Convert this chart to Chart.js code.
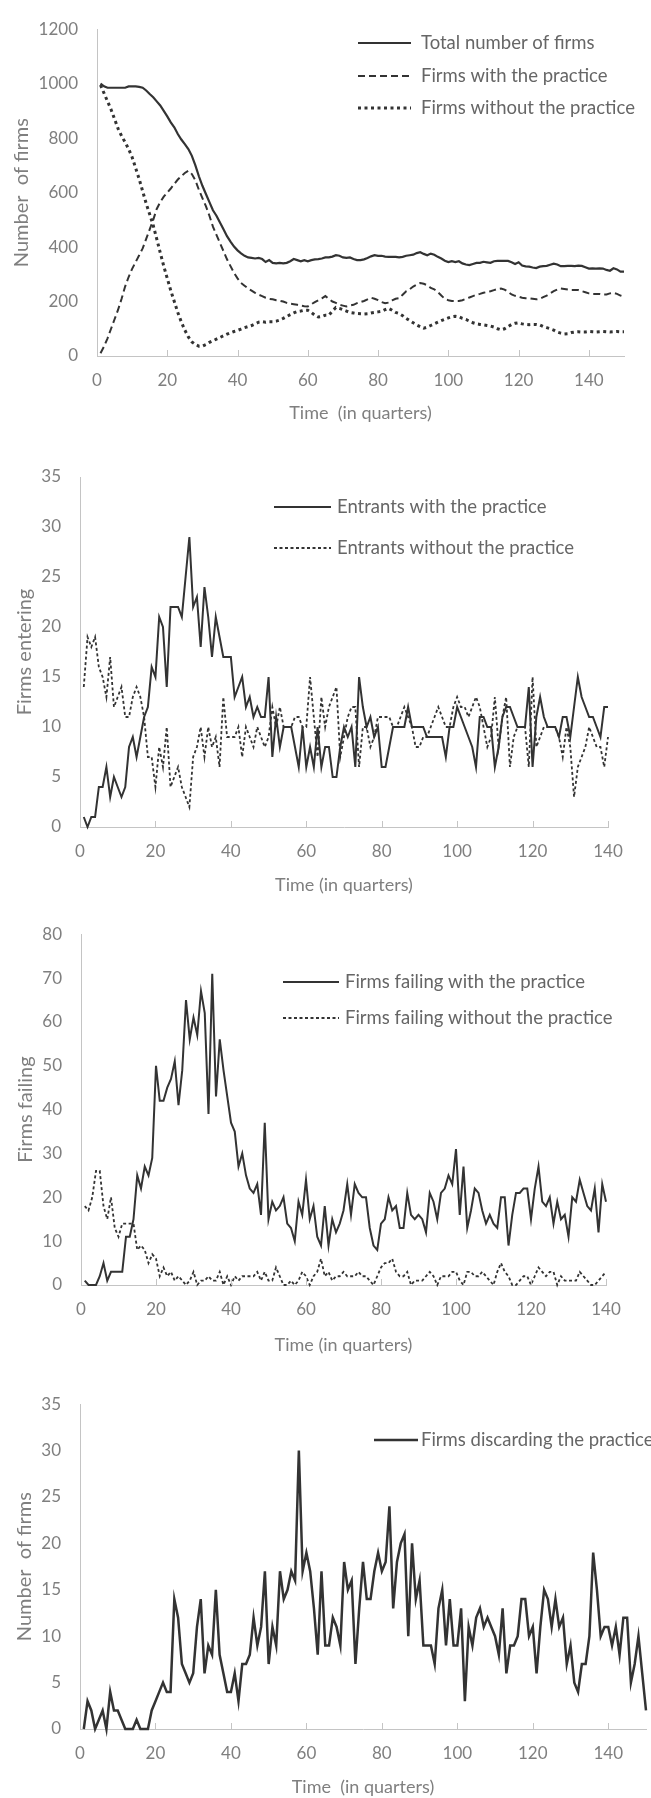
<!DOCTYPE html>
<html>
<head>
<meta charset="utf-8">
<script src="https://cdn.jsdelivr.net/npm/chart.js@4.4.1/dist/chart.umd.min.js"></script>
<style>
    html, body { margin: 0; padding: 0; background: #fff; }
    body { width: 651px; height: 1798px; position: relative; overflow: hidden; }
    canvas { position: absolute; left: 0; }
</style>
</head>
<body>
<canvas id="chart1" width="651" height="425" style="top:0px"></canvas>
<canvas id="chart2" width="651" height="470" style="top:430px"></canvas>
<canvas id="chart3" width="651" height="470" style="top:905px"></canvas>
<canvas id="chart4" width="651" height="423" style="top:1375px"></canvas>
<script>
// Time axis (quarters)
const quarters150 = Array.from({ length: 150 }, (_, i) => i + 1);
const quarters140 = quarters150.slice(0, 140);

// Panel 1: stock of firms
const totalFirms = [
    1000, 990, 985, 985, 985, 985, 985, 985, 990, 990, 990, 988, 985, 975, 962, 950, 935, 920, 900, 880,
    858, 840, 815, 795, 778, 760, 735, 700, 660, 625, 595, 565, 535, 515, 490, 465, 440, 420, 402, 388,
    377, 368, 362, 360, 358, 360, 356, 345, 352, 342, 340, 342, 340, 342, 348, 356, 352, 348, 352, 348,
    352, 355, 356, 358, 362, 362, 365, 370, 368, 362, 360, 362, 356, 352, 352, 355, 360, 366, 370, 368,
    368, 365, 364, 364, 364, 362, 364, 368, 370, 372, 378, 381, 375, 370, 376, 372, 364, 358, 350, 345,
    348, 345, 348, 340, 336, 334, 338, 342, 342, 346, 344, 342, 348, 349, 349, 349, 349, 344, 338, 344,
    332, 329, 328, 325, 323, 328, 330, 331, 335, 339, 336, 330, 330, 331, 331, 330, 332, 331, 326, 321,
    322, 321, 322, 321, 316, 313, 322, 318, 310, 310
];
const firmsWith = [
    10, 35, 65, 100, 135, 170, 210, 255, 290, 320, 345, 370, 395, 430, 465, 500, 540, 565, 585, 600,
    615, 632, 648, 660, 672, 680, 668, 645, 610, 580, 550, 515, 475, 445, 415, 385, 355, 330, 305, 285,
    268, 258, 248, 240, 232, 225, 220, 214, 210, 208, 205, 203, 200, 195, 192, 190, 188, 185, 183, 182,
    190, 198, 205, 212, 220, 210, 200, 195, 188, 185, 182, 185, 188, 194, 198, 202, 208, 214, 210, 205,
    198, 194, 196, 204, 210, 212, 225, 238, 245, 255, 262, 268, 265, 260, 250, 245, 235, 222, 210, 205,
    202, 202, 202, 205, 210, 215, 220, 225, 228, 232, 235, 238, 242, 246, 248, 244, 236, 226, 221, 218,
    214, 212, 212, 210, 208, 210, 216, 222, 230, 238, 244, 248, 246, 244, 242, 242, 242, 238, 234, 230,
    228, 228, 228, 226, 226, 230, 232, 228, 222, 218
];
const firmsWithout = [
    995, 965, 935, 905, 870, 835, 808, 785, 760, 730, 690, 650, 605, 560, 520, 480, 430, 380, 330, 285,
    240, 200, 160, 125, 95, 70, 52, 42, 36, 36, 42, 50, 56, 62, 68, 74, 80, 85, 90, 94,
    99, 104, 108, 112, 118, 124, 126, 124, 126, 126, 128, 132, 138, 145, 152, 158, 163, 165, 168, 168,
    160, 150, 143, 145, 150, 150, 165, 178, 175, 170, 165, 160, 158, 156, 155, 154, 155, 158, 160, 162,
    164, 170, 175, 168, 160, 156, 148, 138, 130, 122, 114, 108, 102, 106, 112, 118, 124, 130, 135, 140,
    144, 146, 144, 138, 134, 128, 122, 118, 116, 114, 112, 110, 106, 100, 96, 100, 108, 116, 120, 122,
    118, 116, 115, 116, 116, 114, 108, 104, 100, 95, 88, 84, 81, 82, 86, 88, 89, 88, 88, 90,
    89, 88, 89, 90, 89, 88, 89, 90, 89, 89
];

// Panel 2: entrants
const entrantsWith = [
    1, 0, 1, 1, 4, 4, 6, 3, 5, 4, 3, 4, 8, 9, 7, 9, 11, 12, 16, 15,
    21, 20, 14, 22, 22, 22, 21, 25, 29, 22, 23, 18, 24, 21, 17, 21, 19, 17, 17, 17,
    13, 14, 15, 12, 13, 11, 12, 11, 11, 15, 7, 11, 8, 10, 10, 10, 8, 6, 10, 6,
    8, 6, 10, 6, 8, 8, 5, 5, 8, 10, 9, 10, 6, 15, 12, 10, 11, 9, 10, 6,
    6, 8, 10, 10, 10, 10, 12, 10, 10, 10, 10, 9, 9, 9, 9, 9, 7, 10, 10, 12,
    11, 10, 9, 8, 6, 11, 11, 10, 10, 6, 8, 11, 12, 12, 11, 10, 10, 10, 14, 6,
    11, 13, 11, 10, 10, 10, 9, 11, 11, 9, 12, 15, 13, 12, 11, 11, 10, 9, 12, 12
];
const entrantsWithout = [
    14, 19, 18, 19, 16, 15, 13, 17, 12, 13, 14, 11, 11, 13, 14, 13, 11, 7, 7, 4,
    8, 6, 10, 4, 5, 6, 4, 3, 2, 7, 8, 10, 7, 10, 8, 9, 6, 13, 9, 9,
    9, 10, 7, 10, 9, 8, 10, 9, 8, 9, 12, 10, 12, 10, 10, 10, 11, 11, 10, 10,
    15, 11, 7, 13, 10, 12, 13, 14, 7, 9, 11, 12, 12, 6, 10, 10, 8, 9, 11, 11,
    11, 11, 10, 10, 11, 12, 11, 10, 8, 8, 9, 9, 10, 11, 12, 11, 10, 10, 12, 13,
    12, 12, 11, 12, 13, 12, 10, 8, 9, 13, 8, 11, 13, 6, 9, 10, 10, 10, 6, 15,
    8, 9, 10, 10, 10, 10, 9, 7, 10, 8, 3, 6, 7, 8, 10, 9, 8, 8, 6, 9
];

// Panel 3: failures
const failingWith = [
    1, 0, 0, 0, 2, 5, 1, 3, 3, 3, 3, 11, 11, 15, 25, 22, 27, 25, 29, 50,
    42, 42, 45, 47, 51, 41, 49, 65, 56, 61, 57, 67, 62, 39, 71, 43, 56, 49, 43, 37,
    35, 27, 30, 25, 22, 21, 23, 16, 37, 15, 19, 17, 18, 20, 14, 13, 10, 19, 16, 24,
    15, 18, 11, 9, 18, 9, 15, 12, 14, 17, 23, 16, 23, 21, 20, 20, 13, 9, 8, 14,
    15, 20, 17, 18, 13, 13, 21, 16, 15, 16, 15, 12, 21, 19, 15, 21, 22, 25, 23, 31,
    16, 27, 13, 17, 22, 21, 17, 14, 16, 14, 13, 20, 20, 9, 16, 21, 21, 22, 22, 15,
    22, 27, 19, 18, 20, 14, 19, 15, 16, 11, 20, 19, 24, 21, 18, 17, 22, 12, 23, 19
];
const failingWithout = [
    18, 17, 20, 26, 26, 18, 15, 20, 13, 11, 14, 14, 14, 14, 8, 9, 8, 5, 7, 6,
    2, 4, 2, 3, 1, 2, 1, 0, 1, 3, 0, 1, 1, 2, 1, 1, 3, 0, 2, 0,
    2, 1, 2, 2, 2, 2, 3, 1, 3, 1, 1, 4, 2, 0, 0, 1, 0, 1, 3, 2,
    0, 2, 3, 6, 2, 3, 1, 2, 2, 3, 2, 2, 2, 3, 2, 2, 1, 0, 2, 4,
    5, 5, 6, 3, 2, 2, 3, 0, 1, 1, 1, 2, 3, 2, 0, 2, 2, 2, 3, 3,
    1, 0, 3, 3, 2, 2, 3, 2, 1, 0, 3, 5, 3, 2, 0, 0, 1, 2, 2, 0,
    2, 4, 3, 2, 3, 3, 0, 2, 1, 1, 1, 1, 3, 2, 1, 0, 0, 1, 2, 3
];

// Panel 4: firms discarding the practice
const discarding = [
    0, 3, 2, 0, 1, 2, 0, 4, 2, 2, 1, 0, 0, 0, 1, 0, 0, 0, 2, 3,
    4, 5, 4, 4, 14, 12, 7, 6, 5, 6, 11, 14, 6, 9, 8, 15, 8, 6, 4, 4,
    6, 3, 7, 7, 8, 12, 9, 11, 17, 7, 11, 9, 17, 14, 15, 17, 16, 30, 17, 19,
    17, 13, 8, 17, 9, 9, 12, 11, 9, 18, 15, 16, 7, 13, 18, 14, 14, 17, 19, 17,
    18, 24, 13, 18, 20, 21, 10, 20, 14, 16, 9, 9, 9, 7, 13, 15, 9, 14, 9, 9,
    13, 3, 11, 9, 12, 13, 11, 12, 11, 10, 8, 13, 6, 9, 9, 10, 14, 14, 10, 11,
    6, 11, 15, 14, 11, 14, 11, 12, 7, 9, 5, 4, 7, 7, 10, 19, 15, 10, 11, 11,
    9, 11, 8, 12, 12, 5, 7, 10, 6, 2
];

const FONT = 'Lato, "Open Sans", sans-serif';
const LABEL_GREY = "#7f7f7f";
const AXIS_GREY = "#c4c4c4";
const INK = "#333333";
const TITLE_SIZE = 20;
const AXIS_TITLE_SIZE = 18;

Chart.defaults.font.family = FONT;

function toPoints(xs, ys) {
    return ys.map((v, i) => ({ x: xs[i], y: v }));
}

// Legend drawn at a fixed spot inside the plot, Excel style
const lineLegend = {
    id: "lineLegend",
    afterDraw(chart, args, opts) {
        const ctx = chart.ctx;
        ctx.save();
        ctx.font = opts.font;
        ctx.textBaseline = "middle";
        chart.data.datasets.forEach((ds, i) => {
            const y = opts.rows[i];
            ctx.beginPath();
            ctx.setLineDash(ds.borderDash || []);
            ctx.lineWidth = ds.borderWidth;
            ctx.strokeStyle = ds.borderColor;
            ctx.moveTo(opts.x0, y);
            ctx.lineTo(opts.x1, y);
            ctx.stroke();
            ctx.setLineDash([]);
            ctx.fillStyle = opts.color;
            ctx.fillText(ds.label, opts.textX, y);
        });
        ctx.restore();
    }
};

// Small tick marks pointing into the plot on the time axis
const innerTicks = {
    id: "innerTicks",
    afterDraw(chart) {
        const xs = chart.scales.x;
        const bottom = chart.chartArea.bottom;
        const ctx = chart.ctx;
        ctx.save();
        ctx.strokeStyle = AXIS_GREY;
        ctx.lineWidth = 1;
        xs.ticks.forEach(t => {
            if (t.value === 0) return;
            const px = Math.round(xs.getPixelForValue(t.value)) + 0.5;
            ctx.beginPath();
            ctx.moveTo(px, bottom);
            ctx.lineTo(px, bottom - 6);
            ctx.stroke();
        });
        ctx.restore();
    }
};

function makePanel(id, cfg, datasets) {
    const canvas = document.getElementById(id);
    const H = canvas.height;
    return new Chart(canvas.getContext("2d"), {
        type: "line",
        data: { datasets },
        options: {
            responsive: false,
            animation: false,
            events: [],
            layout: { padding: { left: 0, top: cfg.plot.top, right: 651 - cfg.plot.right, bottom: 0 } },
            elements: { point: { radius: 0 }, line: { tension: 0 } },
            plugins: {
                legend: { display: false },
                tooltip: { enabled: false },
                lineLegend: Object.assign({ font: "18.5px " + FONT, color: "#666666" }, cfg.legend)
            },
            scales: {
                x: {
                    type: "linear",
                    min: 0,
                    max: cfg.xMax,
                    afterFit: s => { s.height = H - cfg.plot.bottom; },
                    grid: { display: false, drawTicks: false },
                    border: { display: true, color: AXIS_GREY, width: 1 },
                    ticks: {
                        stepSize: 20,
                        includeBounds: false,
                        maxRotation: 0,
                        padding: 14,
                        color: LABEL_GREY,
                        font: { size: 17 },
                        callback: v => String(v)
                    },
                    title: {
                        display: true,
                        text: cfg.xTitle,
                        color: LABEL_GREY,
                        font: { size: AXIS_TITLE_SIZE },
                        padding: { top: 0, bottom: Math.max(0, H - cfg.xTitleY - AXIS_TITLE_SIZE * 0.6) }
                    }
                },
                y: {
                    min: 0,
                    max: cfg.yMax,
                    afterFit: s => { s.width = cfg.plot.left; },
                    grid: { display: false, drawTicks: false },
                    border: { display: true, color: AXIS_GREY, width: 1 },
                    ticks: {
                        stepSize: cfg.yStep,
                        padding: 19,
                        color: LABEL_GREY,
                        font: { size: 17 },
                        callback: v => String(v)
                    },
                    title: {
                        display: true,
                        text: cfg.yTitle,
                        color: LABEL_GREY,
                        font: { size: TITLE_SIZE },
                        padding: { top: cfg.yTitleX - TITLE_SIZE * 0.6, bottom: 0 }
                    }
                }
            }
        },
        plugins: [lineLegend, innerTicks]
    });
}

// Panel 1
makePanel("chart1", {
    plot: { left: 97, right: 624, top: 20, bottom: 356 },
    xMax: 150, yMax: 1200, yStep: 200,
    yTitle: "Number  of firms", yTitleX: 22,
    xTitle: "Time  (in quarters)", xTitleY: 413,
    legend: { x0: 358, x1: 411, textX: 421, rows: [43, 76, 108] }
}, [
    { label: "Total number of firms", data: toPoints(quarters150, totalFirms),
      borderColor: INK, borderWidth: 2.2, clip: false },
    { label: "Firms with the practice", data: toPoints(quarters150, firmsWith),
      borderColor: INK, borderWidth: 2, borderDash: [7, 4], clip: false },
    { label: "Firms without the practice", data: toPoints(quarters150, firmsWithout),
      borderColor: INK, borderWidth: 3, borderDash: [3, 3.5], clip: false }
]);

// Panel 2
makePanel("chart2", {
    plot: { left: 80, right: 608, top: 47, bottom: 397 },
    xMax: 140, yMax: 35, yStep: 5,
    yTitle: "Firms entering", yTitleX: 25,
    xTitle: "Time (in quarters)", xTitleY: 455,
    legend: { x0: 274, x1: 331, textX: 337, rows: [77, 118] }
}, [
    { label: "Entrants with the practice", data: toPoints(quarters140, entrantsWith),
      borderColor: INK, borderWidth: 2, clip: false },
    { label: "Entrants without the practice", data: toPoints(quarters140, entrantsWithout),
      borderColor: INK, borderWidth: 1.8, borderDash: [3, 2.5], clip: false }
]);

// Panel 3
makePanel("chart3", {
    plot: { left: 81, right: 606, top: 29, bottom: 380 },
    xMax: 140, yMax: 80, yStep: 10,
    yTitle: "Firms failing", yTitleX: 26,
    xTitle: "Time (in quarters)", xTitleY: 440,
    legend: { x0: 283, x1: 339, textX: 345, rows: [77, 113] }
}, [
    { label: "Firms failing with the practice", data: toPoints(quarters140, failingWith),
      borderColor: INK, borderWidth: 2, clip: false },
    { label: "Firms failing without the practice", data: toPoints(quarters140, failingWithout),
      borderColor: INK, borderWidth: 1.8, borderDash: [3, 2.5], clip: false }
]);

// Panel 4
makePanel("chart4", {
    plot: { left: 80, right: 646, top: 27, bottom: 354 },
    xMax: 150, yMax: 35, yStep: 5,
    yTitle: "Number  of firms", yTitleX: 25,
    xTitle: "Time  (in quarters)", xTitleY: 413,
    legend: { x0: 374, x1: 418, textX: 421, rows: [65] }
}, [
    { label: "Firms discarding the practice", data: toPoints(quarters150, discarding),
      borderColor: INK, borderWidth: 2.5, clip: false }
]);
</script>
</body>
</html>
